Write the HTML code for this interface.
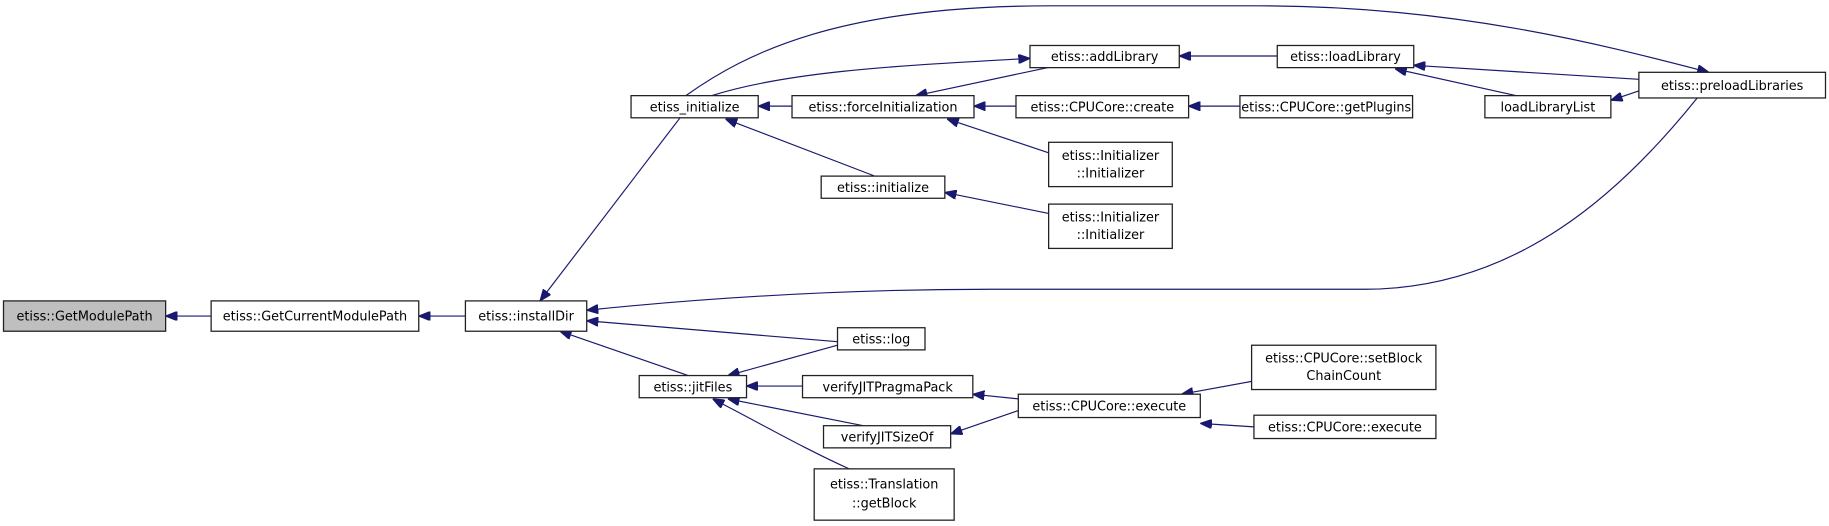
<!DOCTYPE html>
<html><head><meta charset="utf-8"><style>
html,body{margin:0;padding:0;background:#fff;}
svg{display:block;}
text{font-family:"DejaVu Sans","Liberation Sans",sans-serif;font-size:11px;fill:#000;text-anchor:middle;}
.b{fill:#fff;stroke:#222;stroke-width:1.1;}
.e{fill:none;stroke:#191970;stroke-width:1;marker-end:url(#a);}
</style></head><body>
<svg width="1829" height="526" viewBox="0 0 1568 451" preserveAspectRatio="none" xmlns="http://www.w3.org/2000/svg">
<defs><marker id="a" markerUnits="userSpaceOnUse" viewBox="0 0 10 8" refX="10" refY="4" markerWidth="10" markerHeight="8" orient="auto"><path d="M0,0 L10,4 L0,8 z" fill="#191970" stroke="#191970"/></marker></defs>
<path class="e" d="M181,271 L142,271"/>
<path class="e" d="M399,271 L359,271"/>
<path class="e" d="M583,101 L463,258"/>
<path class="e" d="M1455,84 C1390,165 1300,248 1170,248 L850,248 C720,248 600,256 503,266"/>
<path class="e" d="M718,293 L503,275"/>
<path class="e" d="M590,322 L480,284"/>
<path class="e" d="M679,91 L650,91"/>
<path class="e" d="M750,151 L622,102"/>
<path class="e" d="M610,82 C680,60 780,56 883,50"/>
<path class="e" d="M898,58 L785,82"/>
<path class="e" d="M588,82 C640,45 720,5 900,5 L1080,5 C1250,5 1380,40 1465,62"/>
<path class="e" d="M1095,48 L1011,48"/>
<path class="e" d="M1405,68 L1212,56"/>
<path class="e" d="M1300,82 L1196,59"/>
<path class="e" d="M1405,78 L1381,86"/>
<path class="e" d="M871,91 L835,91"/>
<path class="e" d="M1063,91 L1019,91"/>
<path class="e" d="M899,131 L812,102"/>
<path class="e" d="M899,183 L810,165"/>
<path class="e" d="M718,296 L624,322"/>
<path class="e" d="M688,331 L640,331"/>
<path class="e" d="M740,365 L624,342"/>
<path class="e" d="M728,402 C690,385 650,362 611,342"/>
<path class="e" d="M873,342 L834,338"/>
<path class="e" d="M873,352 L815,372"/>
<path class="e" d="M1073,327 L1013,338"/>
<path class="e" d="M1075,366 L1029,363"/>
<rect x="3" y="258" width="139" height="26" style="fill:#bfbfbf;stroke:#222;stroke-width:1.1"/><text x="72.5" y="275">etiss::GetModulePath</text>
<rect class="b" x="181" y="258" width="178" height="26"/><text x="270" y="275">etiss::GetCurrentModulePath</text>
<rect class="b" x="399" y="258" width="104" height="26"/><text x="451" y="275">etiss::installDir</text>
<rect class="b" x="541" y="82" width="109" height="19"/><text x="595.5" y="95.5">etiss_initialize</text>
<rect class="b" x="679" y="82" width="156" height="19"/><text x="757" y="95.5">etiss::forceInitialization</text>
<rect class="b" x="883" y="39" width="128" height="19"/><text x="947" y="52.5">etiss::addLibrary</text>
<rect class="b" x="1095" y="39" width="117" height="19"/><text x="1153.5" y="52.5">etiss::loadLibrary</text>
<rect class="b" x="1405" y="62" width="160" height="22"/><text x="1485" y="77">etiss::preloadLibraries</text>
<rect class="b" x="871" y="82" width="148" height="19"/><text x="945" y="95.5">etiss::CPUCore::create</text>
<rect class="b" x="1063" y="82" width="148" height="19"/><text x="1137" y="95.5">etiss::CPUCore::getPlugins</text>
<rect class="b" x="1273" y="82" width="108" height="19"/><text x="1327" y="95.5">loadLibraryList</text>
<rect class="b" x="899" y="122" width="106" height="38"/><text x="952" y="137">etiss::Initializer</text><text x="952" y="152">::Initializer</text>
<rect class="b" x="704" y="151" width="106" height="19"/><text x="757" y="164.5">etiss::initialize</text>
<rect class="b" x="899" y="175" width="106" height="38"/><text x="952" y="190">etiss::Initializer</text><text x="952" y="205">::Initializer</text>
<rect class="b" x="718" y="281" width="75" height="19"/><text x="755.5" y="294.5">etiss::log</text>
<rect class="b" x="548" y="322" width="92" height="19"/><text x="594" y="335.5">etiss::jitFiles</text>
<rect class="b" x="688" y="322" width="146" height="19"/><text x="761" y="335.5">verifyJITPragmaPack</text>
<rect class="b" x="706" y="365" width="109" height="19"/><text x="760.5" y="378.5">verifyJITSizeOf</text>
<rect class="b" x="698" y="402" width="120" height="44"/><text x="758" y="419">etiss::Translation</text><text x="758" y="435">::getBlock</text>
<rect class="b" x="873" y="338" width="156" height="20"/><text x="951" y="352">etiss::CPUCore::execute</text>
<rect class="b" x="1073" y="296" width="158" height="38"/><text x="1152" y="311">etiss::CPUCore::setBlock</text><text x="1152" y="326">ChainCount</text>
<rect class="b" x="1075" y="356" width="156" height="20"/><text x="1153" y="370">etiss::CPUCore::execute</text>
</svg>
</body></html>
